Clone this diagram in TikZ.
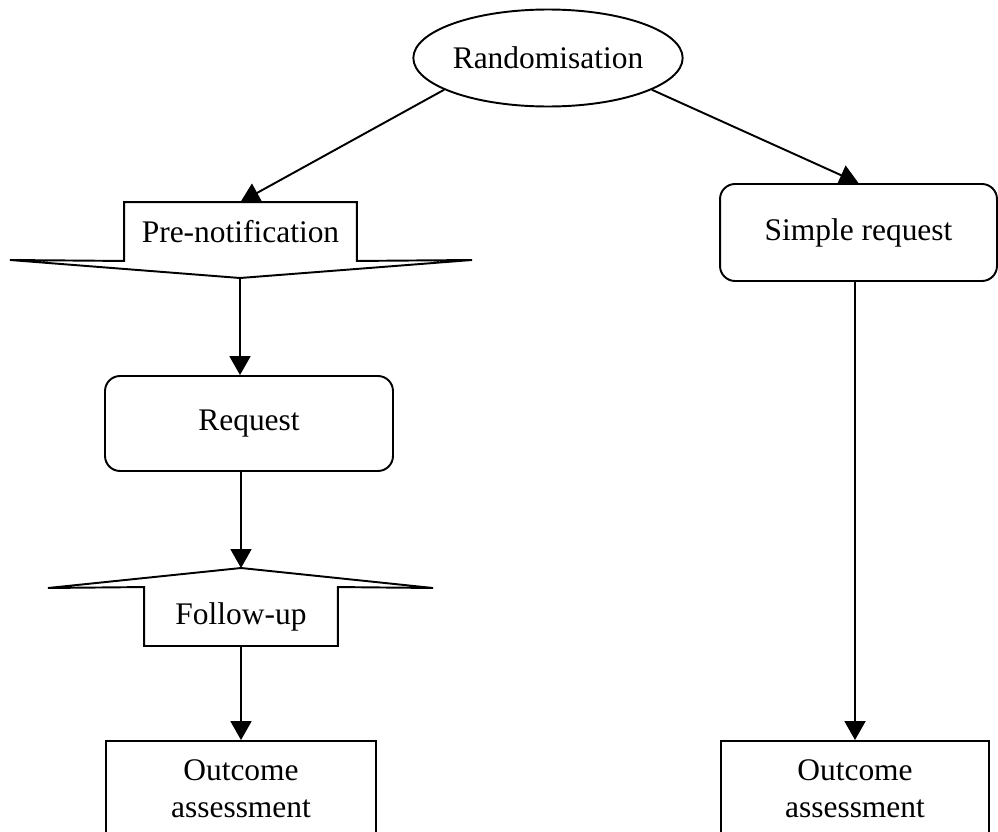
\documentclass[tikz,border=0pt]{standalone}
\usepackage{fontspec}
\setmainfont{Liberation Serif}
\usetikzlibrary{shapes.geometric,arrows.meta,positioning}

\begin{document}
\begin{tikzpicture} [
      x = 0.02cm, y = -0.02cm,
      line width = 1.1pt,
      inner sep = 0,
      every node/.style = { font = \fontsize{17.9}{21}\selectfont, align = center },
      oval/.style = { draw, ellipse, minimum width = 4.66cm, minimum height = 1.94cm },
      rbox/.style = { draw, rectangle, rounded corners = 0.3cm },
      obox/.style = { draw, rectangle, minimum width = 5.4cm, minimum height = 1.9cm },
      flag/.style = { rectangle, minimum height = 1.14cm },
      link/.style = { -{Triangle[length = 0.38cm, width = 0.42cm]} }
      ]
    \clip (0,0) rectangle (998,832);

    \node [oval] (rand) at (548,58) {Randomisation};

    % left arm
    \node [flag, minimum width = 4.62cm] (prenote) at (240.5,231.5) {Pre-notification};
    \coordinate (prenote tip) at (240,278);
    \coordinate (prenote left) at (10,260);
    \coordinate (prenote right) at (472,260);
    \draw (prenote.south west) -- (prenote.north west) -- (prenote.north east) -- (prenote.south east)
      -- (prenote right) -- (prenote tip) -- (prenote left) -- cycle;

    \node [rbox, minimum width = 5.76cm, minimum height = 1.9cm] (request) at (249,423.5) {Request};

    \node [flag, minimum width = 3.84cm] (followup) at (241,616.5) {Follow-up};
    \coordinate (followup tip) at (241,568);
    \coordinate (followup left) at (48,588);
    \coordinate (followup right) at (433,588);
    \draw (followup.north west) -- (followup.south west) -- (followup.south east) -- (followup.north east)
      -- (followup right) -- (followup tip) -- (followup left) -- cycle;

    \node [obox] (outleft) at (241,788.5) {Outcome\\assessment};

    % right arm
    \node [rbox, minimum width = 5.54cm, minimum height = 1.94cm] (simple) at (858.5,232.5) {Simple request};
    \node [obox, minimum width = 5.36cm] (outright) at (855,788.5) {Outcome\\assessment};

    % arrows
    \draw [link] (rand.197) -- (prenote.north);
    \draw [link] (rand.-17) -- (simple.north);
    \draw [link] (prenote tip) -- (prenote tip |- request.north);
    \draw [link] (followup tip |- request.south) -- (followup tip);
    \draw [link] (followup.south) -- (outleft.north);
    \draw [link] (outright.north |- simple.south) -- (outright.north);
\end{tikzpicture}
\end{document}
